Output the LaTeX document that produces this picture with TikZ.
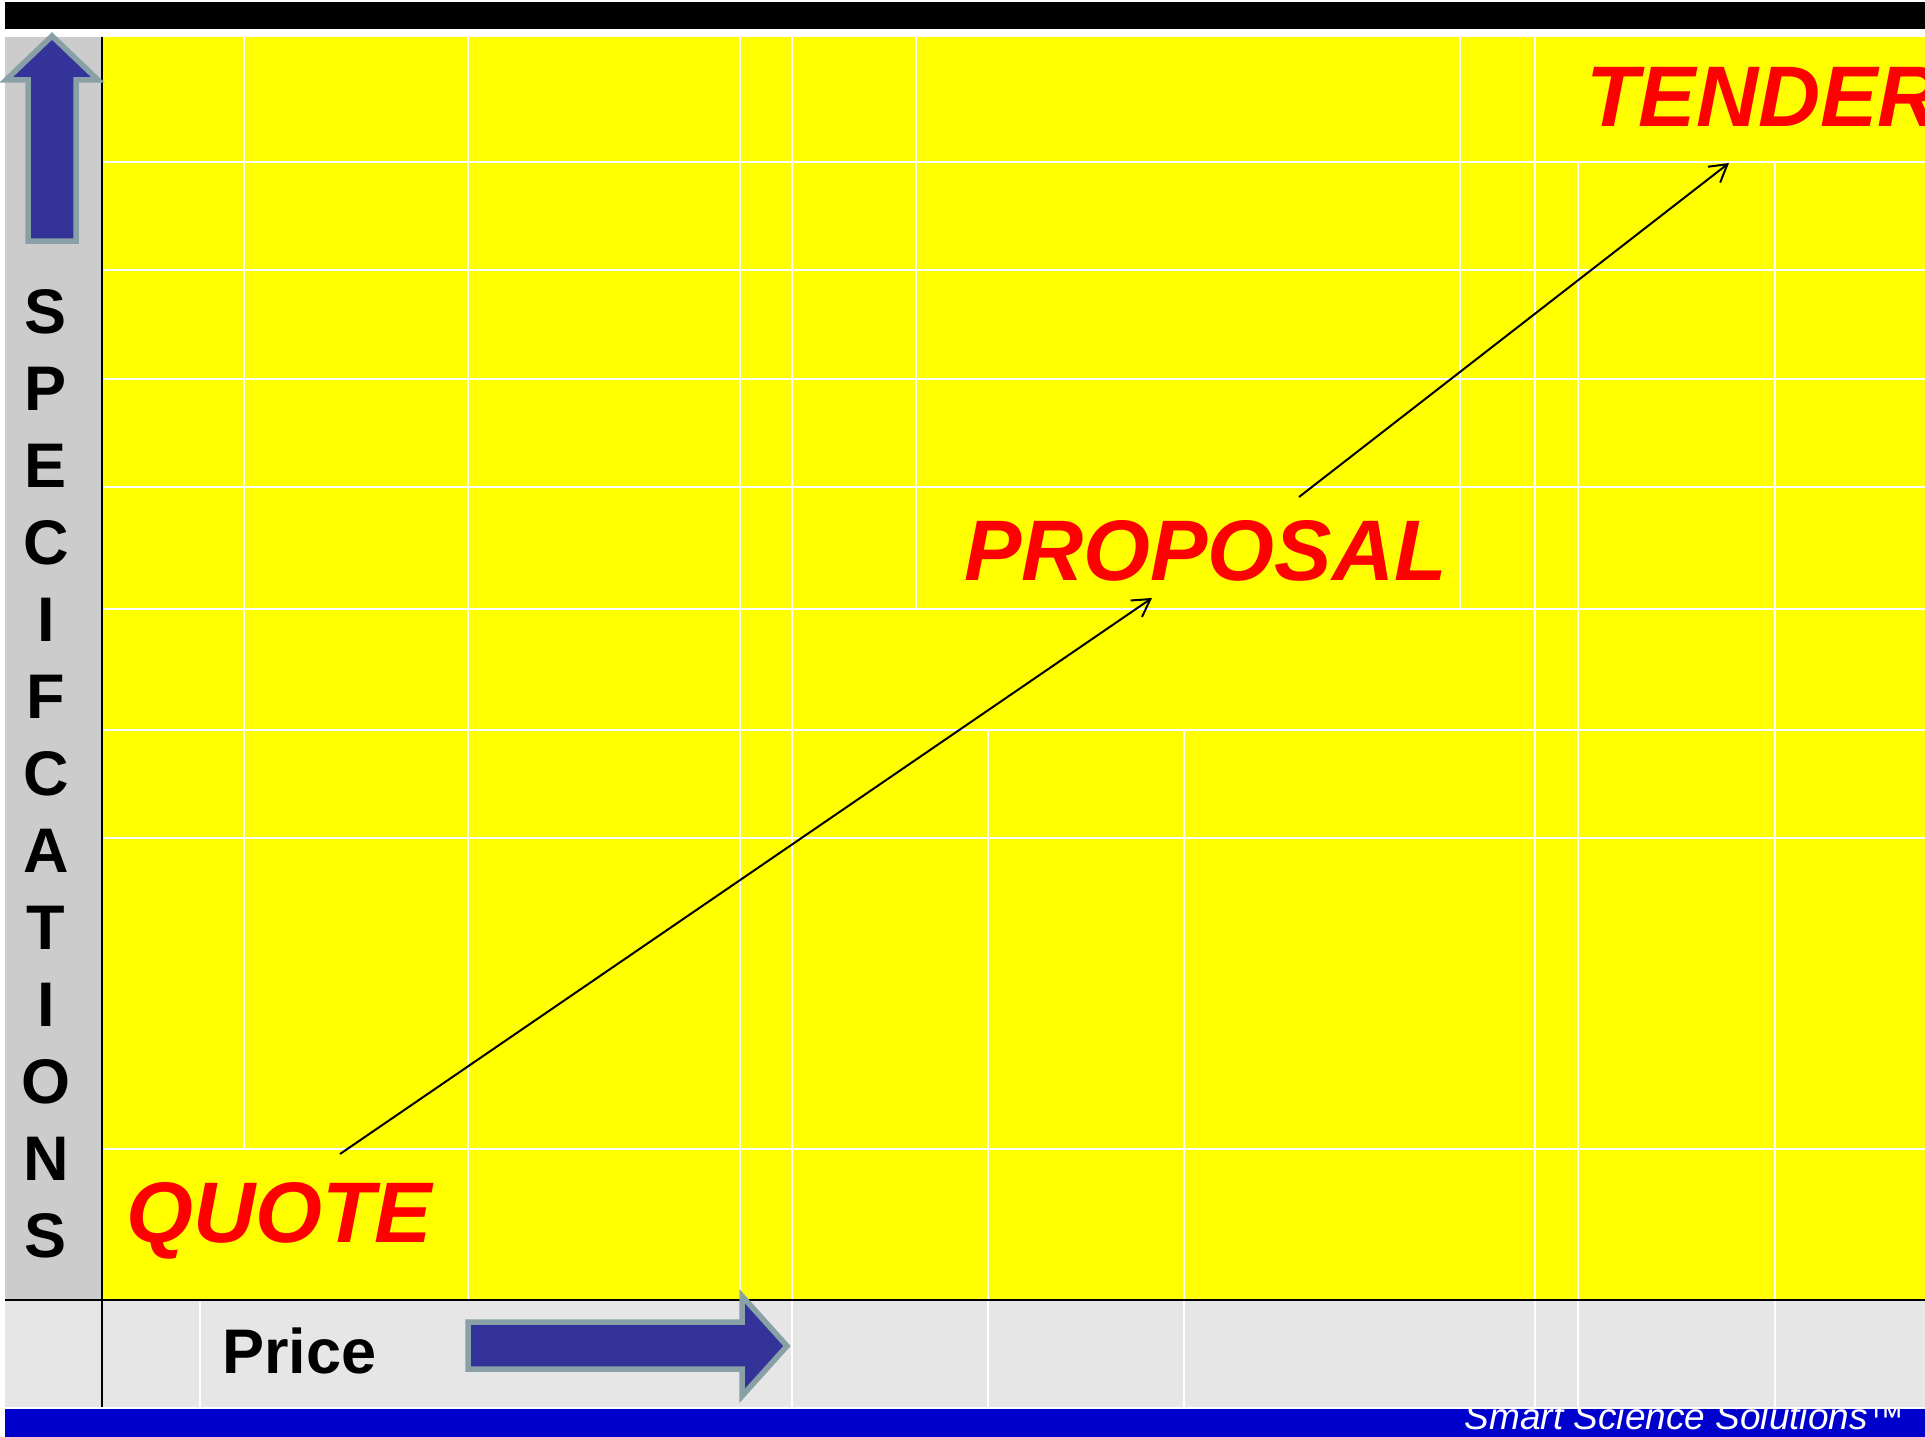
\documentclass[tikz,border=0pt]{standalone}
\usepackage{fontspec}
\setmainfont{Liberation Sans}
\usetikzlibrary{arrows.meta}
\definecolor{chartyellow}{RGB}{255,255,0}
\definecolor{axisgray}{RGB}{204,204,204}
\definecolor{pricegray}{RGB}{230,230,230}
\definecolor{footerblue}{RGB}{0,0,204}
\definecolor{arrowfill}{RGB}{51,51,153}
\definecolor{arrowrim}{RGB}{136,160,166}
\definecolor{labelred}{RGB}{255,0,0}

\begin{document}
\begin{tikzpicture}[x=1pt,y=-1pt,
  gridline/.style={white,line width=2.8pt},
  axisline/.style={black,line width=2.5pt},
  bigarrow/.style={fill=arrowfill,draw=arrowrim,line width=5.5pt,line join=miter},
  stagelabel/.style={text=labelred,font=\fontsize{86}{90}\selectfont\bfseries\itshape,inner sep=0pt,anchor=base west},
  axisletter/.style={font=\fontsize{63}{66}\selectfont\bfseries,inner sep=0pt,anchor=base},
  flow/.style={black,line width=2pt,-{Straight Barb[length=17pt,width=20pt]}}
]
\useasboundingbox (0,0) rectangle (1925,1437);
\fill[white] (0,0) rectangle (1925,1437);

% bands and panels
\fill[black] (5,2) rectangle (1925,29);
\fill[chartyellow] (103,37) rectangle (1925,1299);
\fill[axisgray] (5,37) rectangle (101,1299);
\fill[pricegray] (5,1301) rectangle (1925,1407);
\fill[footerblue] (5,1409) rectangle (1925,1437);

% footer brand, cut by the band edges
\begin{scope}
  \clip (5,1409) rectangle (1925,1437);
  \node[text=white,font=\fontsize{37}{40}\selectfont\itshape,inner sep=0pt,anchor=base east] (brand) at (1905,1429) {Smart Science Solutions™};
\end{scope}

% table rules
\foreach \y in {162,270,379,487,609,730,838,1149}
  \draw[gridline] (104,\y) -- (1925,\y);
\foreach \x/\top/\bot in {244/37/1149, 468/37/1299, 740/37/1299, 792/37/1407,
    916/37/609, 1460/37/609, 1535/37/1407, 1578/162/1407, 1775/162/1407,
    988/730/1407, 1184/730/1407, 200/1301/1407}
  \draw[gridline] (\x,\top) -- (\x,\bot);

% axes
\draw[axisline] (102,37) -- (102,1407);
\draw[axisline] (5,1300) -- (1925,1300);

% block arrows
\draw[bigarrow] (52,36) -- (98,80) -- (76,80) -- (76,241) -- (28,241) -- (28,80) -- (6,80) -- cycle;
\draw[bigarrow] (468,1322) -- (742,1322) -- (742,1296) -- (787,1346) -- (742,1396) -- (742,1369) -- (468,1369) -- cycle;

% axis captions
\foreach \ch [count=\i from 0] in {S,P,E,C,I,F,C,A,T,I,O,N,S}
  \node[axisletter] (spec\i) at (46,333.5+77*\i) {\ch};
\node[font=\fontsize{63}{66}\selectfont\bfseries,inner sep=0pt,anchor=base west] (price) at (222,1373) {Price};

% stages
\node[stagelabel] (tender) at (1586,126) {TENDER};
\node[stagelabel] (proposal) at (964,580) {PROPOSAL};
\node[stagelabel] (quote) at (126,1242) {QUOTE};

% progression
\coordinate (quote-out) at (340,1154);
\coordinate (proposal-in) at (1152,598);
\coordinate (proposal-out) at (1299,497);
\coordinate (tender-in) at (1729,163);
\draw[flow] (quote-out) -- (proposal-in);
\draw[flow] (proposal-out) -- (tender-in);
\end{tikzpicture}
\end{document}
